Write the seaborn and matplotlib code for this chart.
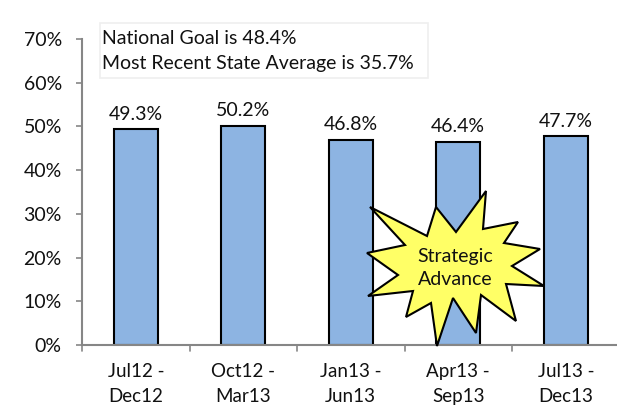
import matplotlib
matplotlib.use("Agg")
import matplotlib.pyplot as plt
from matplotlib.patches import Polygon, Rectangle
import pandas as pd
import seaborn as sns

W, H = 617, 417

periods = ["Jul12 -\nDec12", "Oct12 -\nMar13", "Jan13 -\nJun13", "Apr13 -\nSep13", "Jul13 -\nDec13"]
rates = [49.3, 50.2, 46.8, 46.4, 47.7]
y_ticks = [0, 10, 20, 30, 40, 50, 60, 70]
goal_lines = ["National Goal is 48.4%", "Most Recent State Average is 35.7%"]
star_label = "Strategic\nAdvance"

# star outline, traced in pixels from the image
star_px = [(370, 207), (427, 236), (436, 207), (456, 232), (486, 191), (483, 229),
           (518, 222), (504, 243), (540, 249), (512, 266), (544, 286), (506, 284),
           (516, 321), (481, 295), (476, 333), (453, 298), (437, 346), (431, 303),
           (406, 317), (413, 291), (368, 296), (398, 275), (367, 253), (405, 245)]


def px(x, y):
    return x / W, 1 - y / H


sns.set_theme(style="white")
plt.rcParams["font.family"] = ["Lato", "DejaVu Sans"]
TEXT = "#111111"
AXIS = "#868686"
FS = 14

df = pd.DataFrame({"period": periods, "rate": rates})

fig = plt.figure(figsize=(W / 100, H / 100), dpi=100, facecolor="white")
ax = fig.add_axes([82 / W, 1 - 345 / H, (W - 82) / W, (345 - 39) / H])

sns.barplot(data=df, x="period", y="rate", ax=ax, color="#8DB4E2", saturation=1,
            width=0.41, edgecolor="black", linewidth=1.5)

ax.set_xlim(-0.5, (W - 82) / 107.5 - 0.5)
ax.set_ylim(0, 70)
ax.set_xlabel("")
ax.set_ylabel("")
ax.set_yticks(y_ticks)
ax.set_yticklabels([f"{v}%" for v in y_ticks], fontsize=FS, color=TEXT)
ax.set_xticks(range(len(periods)))
ax.set_xticklabels(periods, fontsize=13.5, color=TEXT, linespacing=1.55)
ax.tick_params(axis="x", length=0, pad=13)
ax.tick_params(axis="y", length=4.5, width=1.2, color=AXIS, left=True, pad=10)

# category boundary ticks below the axis
for i in range(len(periods) + 1):
    ax.plot([i - 0.5, i - 0.5], [0, -6 / 306 * 70], color=AXIS, lw=1.2, clip_on=False)

for name in ["top", "right"]:
    ax.spines[name].set_visible(False)
for name in ["left", "bottom"]:
    ax.spines[name].set_color(AXIS)
    ax.spines[name].set_linewidth(1.5)

for i, v in enumerate(rates):
    ax.annotate(f"{v}%", (i, v), xytext=(0, 5), textcoords="offset points",
                ha="center", va="bottom", fontsize=FS, color=TEXT)

# goal text box
x0, y1 = px(100, 78)
x1, y0 = px(428, 23)
fig.add_artist(Rectangle((x0, y1), x1 - x0, y0 - y1, transform=fig.transFigure,
                         facecolor="white", edgecolor="#EFEFEF", lw=1.2, zorder=4))
for line, ypos in zip(goal_lines, [38, 64]):
    fig.text(*px(102, ypos), line, fontsize=FS, color=TEXT, va="center", zorder=5)

# starburst callout
fig.add_artist(Polygon([px(*p) for p in star_px], closed=True, transform=fig.transFigure,
                       facecolor="#FFFF66", edgecolor="black", lw=1.5, zorder=6))
fig.text(*px(455, 268), star_label, fontsize=FS, color=TEXT, ha="center", va="center",
         linespacing=1.45, zorder=7)

fig.savefig("out.png", dpi=100, facecolor="white")
